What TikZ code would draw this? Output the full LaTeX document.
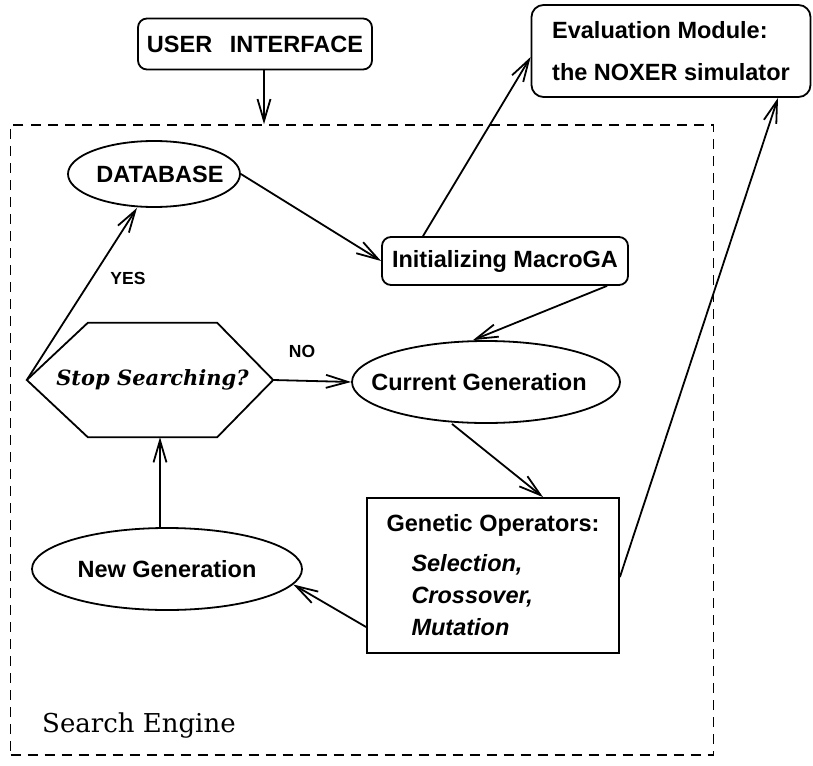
\documentclass[tikz,border=0pt]{standalone}
\usepackage{fontspec}
\newfontfamily\hv{Liberation Sans}
\newfontfamily\dvserif{DejaVu Serif}
\usetikzlibrary{arrows.meta,shapes.geometric}

\tikzset{
  lw/.style={line width=1.8pt},
  conn/.style={lw, -{Straight Barb[length=22pt,width=13pt]}},
  labfont/.style={font=\hv\bfseries\fontsize{23.5}{28}\selectfont},
  rbox/.style={draw, lw, rounded corners=9pt, inner sep=0pt, labfont},
  oval/.style={draw, ellipse, lw, inner sep=0pt, labfont},
  sqbox/.style={draw, lw, inner sep=0pt, labfont},
  tag/.style={font=\hv\bfseries\fontsize{17.5}{20}\selectfont, inner sep=0pt},
  region/.style={draw, line width=1.6pt, dash pattern=on 10pt off 7pt, inner sep=0pt},
}

\begin{document}
\begin{tikzpicture}[x=1pt, y=-1pt]
\useasboundingbox (0,0) rectangle (813,765);

% search engine frame and its caption
\node[region, minimum width=703pt, minimum height=630pt] (engine) at (362,440) {};
\node[anchor=base west, inner sep=0pt, font=\dvserif\fontsize{26}{30}\selectfont]
  (caption) at (42,732) {Search Engine};

% outer modules
\node[rbox, minimum width=234pt, minimum height=51pt] (ui) at (255,44)
  {USER\hspace{0.75em}INTERFACE};
\node[rbox, rounded corners=12pt, minimum width=279pt, minimum height=92pt,
  align=left, font=\hv\bfseries\fontsize{23.5}{42}\selectfont] (eval) at (671,51)
  {Evaluation Module:\\the NOXER simulator};

% inner blocks
\node[oval, minimum width=172pt, minimum height=66pt] (db) at (154,174)
  {\makebox[0pt]{\hspace*{12pt}DATABASE}};
\node[rbox, minimum width=246pt, minimum height=48pt] (init) at (505,261)
  {Initializing MacroGA};
\node[oval, minimum width=268pt, minimum height=82pt] (cg) at (486,382)
  {\makebox[0pt]{Current Generation\hspace*{14pt}}};
\node[sqbox, minimum width=252pt, minimum height=155pt, align=left,
  font=\hv\bfseries\fontsize{23.5}{32}\selectfont] (gen) at (493,575.5)
  {\makebox[211pt][c]{Genetic Operators:}\\[8pt]
   \hspace*{24pt}\itshape Selection,\\
   \hspace*{24pt}\itshape Crossover,\\
   \hspace*{24pt}\itshape Mutation};
\node[oval, minimum width=270pt, minimum height=82pt] (ng) at (167,569)
  {\makebox[0pt]{New Generation}};

% decision hexagon
\node[minimum width=129pt, minimum height=114pt, inner sep=0pt,
  font=\dvserif\bfseries\itshape\fontsize{21}{26}\selectfont] (stop) at (152.5,380)
  {\makebox[0pt]{Stop Searching?}};
\coordinate (stopL) at ([xshift=-61pt]stop.west);
\coordinate (stopR) at ([xshift=56pt]stop.east);
\coordinate (stopB) at ([xshift=7.5pt]stop.south);
\draw[lw, line join=miter] (stop.north west) -- (stop.north east) -- (stopR)
  -- (stop.south east) -- (stop.south west) -- (stopL) -- cycle;

% branch labels
\node[tag] (yes) at (128,278) {YES};
\node[tag] (no) at (302,351) {NO};

% connectors
\coordinate (uix) at (264,0);
\draw[conn] (ui.south -| uix) -- (engine.north -| uix);
\draw[conn] (db.east) -- (init.west);
\draw[conn] ([xshift=-82pt]init.north) -- ([yshift=-6pt]eval.west);
\draw[conn] ([xshift=102pt]init.south) -- ([xshift=-13pt]cg.north);
\draw[conn] ([xshift=-34pt]cg.south) -- ([xshift=50pt]gen.north);
\draw[conn] ([yshift=-51.5pt]gen.west) -- (ng.-7);
\draw[conn] ([yshift=-1.5pt]gen.east) -- ([xshift=107pt]eval.south);
\draw[conn] (ng.north -| stopB) -- (stopB);
\draw[conn] (stopR) -- (cg.west);
\draw[conn] (stopL) -- ([xshift=-17pt]db.south);
\end{tikzpicture}
\end{document}
